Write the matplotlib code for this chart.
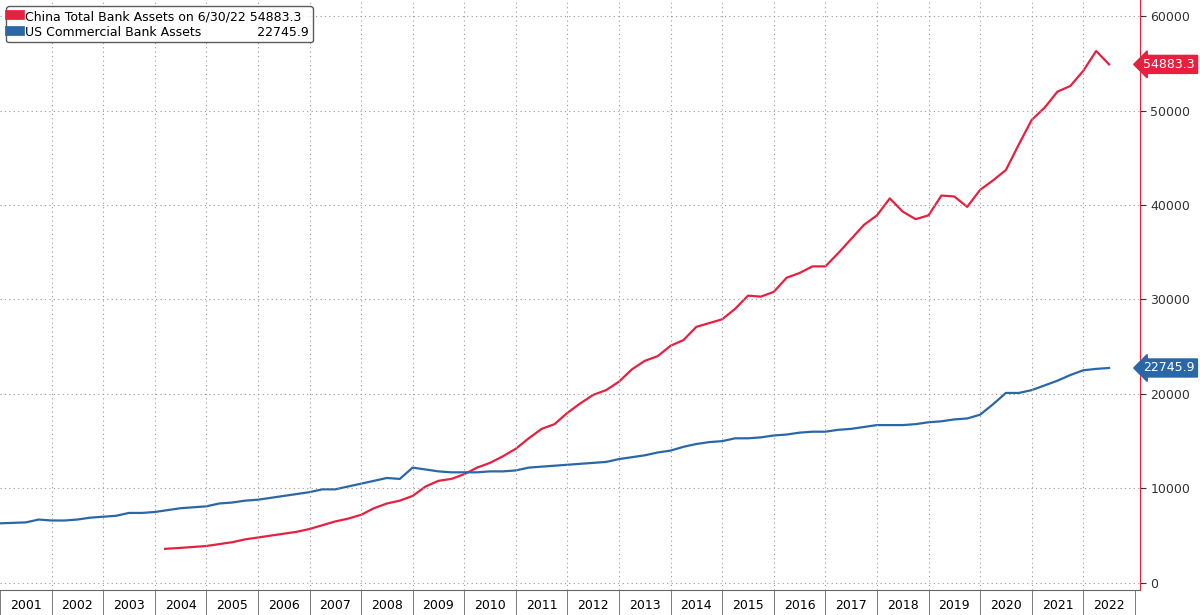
import matplotlib
matplotlib.use("Agg")
import matplotlib.pyplot as plt

china_x = [2004.2,2004.5,2004.75,2005.0,2005.25,2005.5,2005.75,2006.0,2006.25,2006.5,2006.75,2007.0,2007.25,2007.5,2007.75,2008.0,2008.25,2008.5,2008.75,2009.0,2009.25,2009.5,2009.75,2010.0,2010.25,2010.5,2010.75,2011.0,2011.25,2011.5,2011.75,2012.0,2012.25,2012.5,2012.75,2013.0,2013.25,2013.5,2013.75,2014.0,2014.25,2014.5,2014.75,2015.0,2015.25,2015.5,2015.75,2016.0,2016.25,2016.5,2016.75,2017.0,2017.25,2017.5,2017.75,2018.0,2018.25,2018.5,2018.75,2019.0,2019.25,2019.5,2019.75,2020.0,2020.25,2020.5,2020.75,2021.0,2021.25,2021.5,2021.75,2022.0,2022.25,2022.5]
china_v = [3600,3700,3800,3900,4100,4300,4600,4800,5000,5200,5400,5700,6100,6500,6800,7200,7900,8400,8700,9200,10200,10800,11000,11500,12200,12700,13400,14200,15300,16300,16800,18000,19000,19900,20400,21300,22600,23500,24000,25100,25700,27100,27500,27900,29000,30400,30300,30800,32300,32800,33500,33500,34900,36400,37900,38900,40700,39300,38500,38900,41000,40900,39800,41600,42600,43700,46400,49000,50300,52000,52600,54200,56300,54883.3]

us_x = [2001 + q * 0.25 for q in range(87)]
us_v = [6300,6350,6400,6700,
        6600,6600,6700,6900,
        7000,7100,7400,7400,
        7500,7700,7900,8000,
        8100,8400,8500,8700,
        8800,9000,9200,9400,
        9600,9900,9900,10200,
        10500,10800,11100,11000,
        12200,12000,11800,11700,
        11700,11700,11800,11800,
        11900,12200,12300,12400,
        12500,12600,12700,12800,
        13100,13300,13500,13800,
        14000,14400,14700,14900,
        15000,15300,15300,15400,
        15600,15700,15900,16000,
        16000,16200,16300,16500,
        16700,16700,16700,16800,
        17000,17100,17300,17400,
        17800,18900,20100,20100,
        20400,20900,21400,22000,
        22500,22650,22745.9]

years = list(range(2001, 2023))
red = "#e8203f"
blue = "#2b67a6"

fig = plt.figure(figsize=(12, 6.15), dpi=100)
ax = fig.add_axes([0.0, 0.04, 0.95, 0.96])
ax.plot(china_x, china_v, color=red, lw=1.6, label="China Total Bank Assets on 6/30/22 54883.3")
ax.plot(us_x, us_v, color=blue, lw=1.6, label="US Commercial Bank Assets              22745.9")
ax.set_xlim(2001.0, 2023.1)
ax.set_ylim(-800, 61700)
ax.yaxis.tick_right()
ax.set_yticks(range(0, 60001, 10000))
ax.tick_params(axis="y", labelsize=9, colors="#333333", length=4)
ax.set_xticks([y + 0.5 for y in years])
ax.set_xticklabels([str(y) for y in years], fontsize=9)
ax.set_xticks(list(range(2001, 2024)), minor=True)
ax.tick_params(axis="x", which="major", length=0, pad=6)
ax.tick_params(axis="x", which="minor", length=18, color="#666666")
for y in range(2002, 2023):
    ax.axvline(y, color="#999999", ls=(0, (1, 3)), lw=0.8)
for v in range(0, 60001, 10000):
    ax.axhline(v, color="#999999", ls=(0, (1, 3)), lw=0.8)
for s in ["top", "left"]:
    ax.spines[s].set_visible(False)
ax.spines["right"].set_color(red)
ax.spines["bottom"].set_color("#666666")
ax.text(1.003, 54883.3, "54883.3", transform=ax.get_yaxis_transform(), color="white", fontsize=9,
        va="center", ha="left", bbox=dict(boxstyle="larrow,pad=0.2", fc=red, ec=red))
ax.text(1.003, 22745.9, "22745.9", transform=ax.get_yaxis_transform(), color="white", fontsize=9,
        va="center", ha="left", bbox=dict(boxstyle="larrow,pad=0.2", fc=blue, ec=blue))
leg = ax.legend(loc="upper left", bbox_to_anchor=(0.0, 1.0), fontsize=9, frameon=True, fancybox=True,
                edgecolor="#333333", handlelength=0.8, handleheight=0.8, borderpad=0.3, labelspacing=0.2,
                handletextpad=0.4)
for h in leg.legend_handles:
    h.set_linewidth(7)
fig.savefig("out.png", dpi=100)
